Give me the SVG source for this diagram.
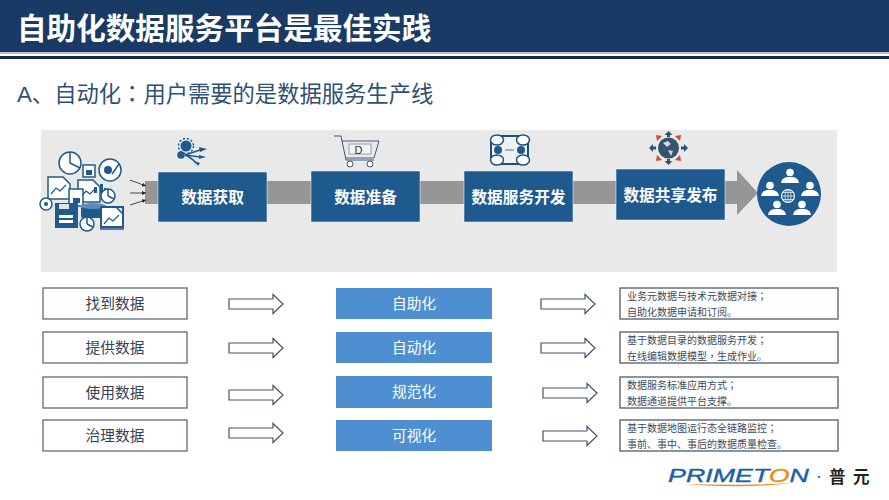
<svg xmlns="http://www.w3.org/2000/svg" width="889" height="500" viewBox="0 0 889 500">
<style>
text{font-family:"Liberation Sans","Noto Sans CJK SC",sans-serif}
.p{font-family:"Noto Sans CJK TC",sans-serif}
.step rect{fill:#1f5a8e;stroke:#fff;stroke-width:.5}
.step text{fill:#fff;font-size:15.700px;font-weight:700;text-anchor:middle}
.src rect{fill:#fff;stroke:#5c6b7c;stroke-width:1.300}
.src text{fill:#33445a;font-size:14.700px;text-anchor:middle}
.mid rect{fill:#4d8fd0}
.mid text{fill:#fff;font-size:14.700px;text-anchor:middle}
.note rect{fill:#fff;stroke:#4f5c6b;stroke-width:1.300}
.note text{fill:#3c4a5c;font-size:10px}
.hollow{fill:#fff;stroke:#44546a;stroke-width:1.200}
.ln{fill:none;stroke:#1f5a8e;stroke-width:1.500}
.lnf{fill:#fff;stroke:#1f5a8e;stroke-width:1.500}
.fil{fill:#1f5a8e}
.thin{stroke:#222;stroke-width:.8;fill:none;marker-end:url(#tip)}
</style>
<defs>
<marker id="tip" markerWidth="6" markerHeight="6" refX="5" refY="2.500" orient="auto"><path d="M0 0L5 2.500L0 5z" fill="#222"/></marker>
<path id="ha" d="M0-5H44V-9.500L54 0L44 9.500V5H0z"/>
<g id="doc"><path class="lnf" d="M0 0H15L22 7V22H0z"/><path d="M3 17L8 11L12 14L18 8" fill="none" stroke="#1f5a8e" stroke-width="1.200"/></g>
<g id="pie"><circle class="lnf" r="7"/><path d="M0 0V-7M0 0L6 3" class="ln" stroke-width="1"/></g>
<g id="person"><circle cy="-4.500" r="3.800" fill="#fff"/><path d="M-9 6C-8 0-3 0 0 0S8 0 9 6z" fill="#fff"/></g>
</defs>

<rect id="header" width="889" height="52" fill="#1a3a66"/>
<rect y="52" width="889" height="2" fill="#b9c3d2"/>
<rect y="56" width="889" height="3" fill="#14294a"/>
<text x="17" y="39" font-size="29.600" font-weight="700" fill="#fff">自助化数据服务平台是最佳实践</text>
<text x="17" y="102" font-size="22.300" fill="#2f5076">A、自动化<tspan class="p">：</tspan>用户需要的是数据服务生产线</text>

<rect id="panel" x="41" y="130" width="796" height="142" fill="#e9e9e9"/>

<g id="connectors">
<path id="flow" d="M145 181H737V170L758 193L737 215V204H145z" fill="#969696"/>
<path class="thin" d="M130 180L146 186"/>
<path class="thin" d="M130 193H146"/>
<path class="thin" d="M130 205L146 200"/>
<use href="#ha" x="229" y="304" class="hollow"/>
<use href="#ha" x="229" y="348" class="hollow"/>
<use href="#ha" x="229" y="395" class="hollow"/>
<use href="#ha" x="229" y="433" class="hollow"/>
<use href="#ha" x="541" y="304" class="hollow"/>
<use href="#ha" x="541" y="348" class="hollow"/>
<use href="#ha" x="543" y="393" class="hollow"/>
<use href="#ha" x="543" y="436" class="hollow"/>
</g>

<g id="icon-sources">
<circle class="lnf" cx="70" cy="163" r="11" fill="none"/><path class="ln" d="M70 152V163L80 168"/>
<rect class="lnf" x="83" y="165" width="12" height="12"/><rect class="fil" x="86" y="170" width="6" height="5"/>
<circle class="lnf" cx="110" cy="170" r="11"/><circle class="fil" cx="108" cy="170" r="4"/><path class="ln" d="M112 174L119 164"/>
<use href="#doc" x="48" y="177"/>
<use href="#doc" x="78" y="180"/>
<path class="fil" d="M91 193h3v-6h3v6h3v-9h3v9h3v-5h-2v5z"/>
<use href="#pie" x="108" y="196"/>
<circle class="lnf" cx="46" cy="204" r="6"/><circle class="fil" cx="46" cy="204" r="2"/>
<rect class="lnf" x="69" y="189" width="14" height="17"/><rect class="fil" x="73" y="198" width="7" height="5"/>
<path class="fil" d="M55 203h23v25H55z"/><rect x="59" y="204" width="10" height="5" fill="#dde4ea"/><rect x="59" y="215" width="14" height="3" fill="#fff"/><rect x="59" y="220" width="14" height="3" fill="#fff"/>
<rect x="81" y="206" width="26" height="12" rx="2" class="fil"/><ellipse cx="93" cy="206" rx="13" ry="3" fill="#5f8cb3"/>
<use href="#doc" x="101" y="207"/><path d="M101 207h22v20h-22z" fill="none" stroke="#1f5a8e" stroke-width="2"/>
<use href="#pie" x="87" y="224"/>
</g>

<g id="step1" class="step"><rect x="158" y="172" width="109" height="50"/><text x="212.500" y="203">数据获取</text></g>
<g id="icon-step1">
<circle class="fil" cx="186" cy="146" r="5.500"/><circle cx="186" cy="146" r="7.500" fill="none" stroke="#1f5a8e" stroke-width="1.500" stroke-dasharray="2 2"/><circle class="fil" cx="181" cy="155" r="3.800"/>
<path class="ln" d="M185 155L200 150M185 155L200 157M185 155Q192 158 196 163"/>
<path class="fil" d="M199 147l8 2l-7 3zM199 155l7 2l-7 2zM194 161l6 2l-2 3z"/>
</g>

<g id="step2" class="step"><rect x="311" y="171" width="109" height="51"/><text x="365.500" y="203">数据准备</text></g>
<g id="icon-step2" fill="none" stroke="#3d5a78" stroke-width="1">
<path d="M334 136H341L346 160H374"/>
<path d="M342 141H379L374 158H345"/>
<rect x="349" y="144" width="22" height="10" fill="#fff" opacity=".5"/>
<circle cx="350" cy="164" r="3" fill="#fff"/><circle cx="370" cy="164" r="3" fill="#fff"/>
<text x="358.500" y="154" font-size="11" fill="#333" stroke="none" text-anchor="middle">D</text>
</g>

<g id="step3" class="step"><rect x="464" y="171" width="109" height="51"/><text x="518.500" y="203">数据服务开发</text></g>
<g id="icon-step3">
<rect x="491" y="136" width="37" height="28" rx="7" fill="#eef2f6" stroke="#1f4f7c" stroke-width="2"/>
<ellipse cx="497" cy="140" rx="6.500" ry="5" fill="#fff" stroke="#1f4f7c" stroke-width="1.500"/><ellipse cx="523" cy="140" rx="6.500" ry="5" fill="#fff" stroke="#1f4f7c" stroke-width="1.500"/>
<ellipse cx="497" cy="160" rx="6.500" ry="5" fill="#fff" stroke="#1f4f7c" stroke-width="1.500"/><ellipse cx="523" cy="160" rx="6.500" ry="5" fill="#fff" stroke="#1f4f7c" stroke-width="1.500"/>
<circle class="fil" cx="498" cy="150" r="4"/><circle class="fil" cx="521" cy="150" r="4"/>
<path d="M505 150h9" stroke="#7f9db8" stroke-width="1.500"/>
</g>

<g id="step4" class="step"><rect x="616" y="169" width="109" height="51"/><text x="670.500" y="201">数据共享发布</text></g>
<g id="icon-step4">
<circle cx="668.500" cy="148" r="10.500" fill="#34536f"/>
<path d="M663 143l5-2l3 3l-4 3zM668 150l5 1l-2 5z" fill="#cfd8e0"/>
<path d="M668.500 131l4 4h-2.500v2h-3v-2h-2.500zM668.500 165l4-4h-2.500v-2h-3v2h-2.500zM649 148l4-4v2.500h3v3h-3v2.500zM688 148l-4-4v2.500h-3v3h3v2.500z" fill="#34536f"/>
<path d="M656 135l6 1l-5 5zM681 135l-6 1l5 5zM656 161l6-1l-5-5zM681 161l-6-1l5-5z" fill="#d8482a"/>
</g>

<g id="users">
<circle cx="789" cy="194" r="32" fill="#1f5a8e"/>
<use href="#person" x="790" y="177"/>
<use href="#person" x="770" y="190"/>
<use href="#person" x="810" y="190"/>
<use href="#person" x="777" y="209"/>
<use href="#person" x="802" y="209"/>
<circle cx="788" cy="196" r="6.500" fill="none" stroke="#fff" stroke-width="1.100"/>
<ellipse cx="788" cy="196" rx="3" ry="6.500" fill="none" stroke="#fff" stroke-width=".7"/>
<path d="M781.500 196h13M788 189.500v13M782.500 192.500h11M782.500 199.500h11" stroke="#fff" stroke-width=".7"/>
</g>

<g id="src1" class="src"><rect x="43" y="288" width="144" height="31"/><text x="115" y="309">找到数据</text></g>
<g id="src2" class="src"><rect x="43" y="332" width="144" height="31"/><text x="115" y="353">提供数据</text></g>
<g id="src3" class="src"><rect x="43" y="377" width="144" height="31"/><text x="115" y="398">使用数据</text></g>
<g id="src4" class="src"><rect x="43" y="420" width="144" height="31"/><text x="115" y="441">治理数据</text></g>

<g id="mid1" class="mid"><rect x="336" y="288" width="156" height="31"/><text x="414" y="309">自助化</text></g>
<g id="mid2" class="mid"><rect x="336" y="332" width="156" height="31"/><text x="414" y="353">自动化</text></g>
<g id="mid3" class="mid"><rect x="336" y="376" width="156" height="32"/><text x="414" y="397">规范化</text></g>
<g id="mid4" class="mid"><rect x="336" y="420" width="156" height="31"/><text x="414" y="441">可视化</text></g>

<g id="note1" class="note"><rect x="620" y="288" width="218" height="31"/><text x="627" y="300">业务元数据与技术元数据对接<tspan class="p">；</tspan></text><text x="627" y="316">自助化数据申请和订阅。</text></g>
<g id="note2" class="note"><rect x="620" y="332" width="218" height="31"/><text x="627" y="344">基于数据目录的数据服务开发<tspan class="p">；</tspan></text><text x="627" y="360">在线编辑数据模型<tspan class="p">，</tspan>生成作业。</text></g>
<g id="note3" class="note"><rect x="620" y="377" width="218" height="31"/><text x="627" y="389">数据服务标准应用方式<tspan class="p">；</tspan></text><text x="627" y="405">数据通道提供平台支撑。</text></g>
<g id="note4" class="note"><rect x="620" y="420" width="218" height="31"/><text x="627" y="432">基于数据地图运行态全链路监控<tspan class="p">；</tspan></text><text x="627" y="448">事前、事中、事后的数据质量检查。</text></g>

<g id="logo">
<text x="668" y="482" font-size="17.500" font-style="italic" fill="#1c5fa8" stroke="#1c5fa8" stroke-width=".35" textLength="141" lengthAdjust="spacingAndGlyphs">PRIMET<tspan fill="#ee8a12" stroke="#ee8a12">O</tspan>N</text>
<path d="M685 484Q740 486 794 483Q740 489 685 484z" fill="#ee8a12"/>
<circle cx="819" cy="477" r="1.300" fill="#3a8a8a"/>
<text x="829" y="483" font-size="16.500" font-weight="700" fill="#222">普</text>
<text x="853" y="483" font-size="16.500" font-weight="700" fill="#222">元</text>
</g>
</svg>
